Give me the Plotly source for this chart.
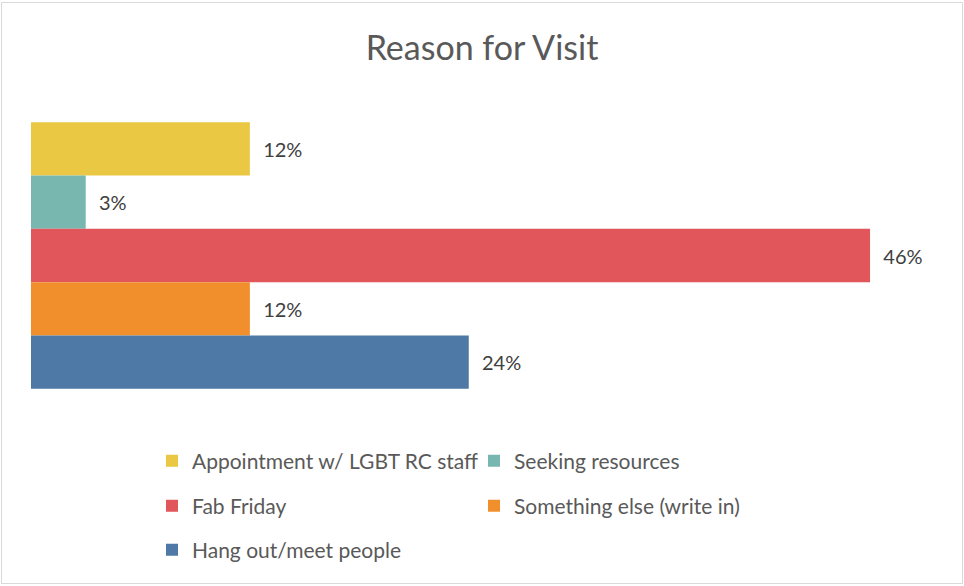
import plotly.graph_objects as go

categories = ["Reason"]
series_names = [
    "Appointment w/ LGBT RC staff",
    "Seeking resources",
    "Fab Friday",
    "Something else (write in)",
    "Hang out/meet people",
]
series_values = [12, 3, 46, 12, 24]
series_colors = ["#EBC844", "#78B7AF", "#E0565B", "#F28F2D", "#4E78A6"]
legend_ids = ["legend", "legend", "legend2", "legend2", "legend3"]

W, H = 964, 586
ML, MR, MT, MB = 31, 21, 109, 184
FONT = "Lato"

fig = go.Figure()
for name, val, col, lg in zip(series_names, series_values, series_colors, legend_ids):
    fig.add_trace(go.Bar(
        y=categories, x=[val], name=name, orientation="h",
        marker=dict(color=col, line=dict(width=0)),
        text=[f"{val}%"], textposition="outside",
        texttemplate="  %{text}",
        textfont=dict(family=FONT, size=20, color="#404040"),
        cliponaxis=False, legend=lg,
    ))

leg_common = dict(orientation="h", xanchor="left", yanchor="middle",
                  font=dict(family=FONT, size=21, color="#595959"),
                  entrywidth=277, entrywidthmode="pixels",
                  bgcolor="rgba(0,0,0,0)", itemclick=False)

def py(y):
    return (H - MB - y) / (H - MT - MB)

def px(x):
    return (x - ML) / (W - ML - MR)

fig.update_layout(
    width=W, height=H,
    margin=dict(l=ML, r=MR, t=MT, b=MB),
    paper_bgcolor="white", plot_bgcolor="white",
    barmode="group", bargap=0.09, bargroupgap=0,
    title=dict(text="Reason for Visit", x=0.5, xanchor="center",
               y=1 - 48 / H, yanchor="middle",
               font=dict(family=FONT, size=34, color="#595959")),
    xaxis=dict(range=[0, 50], visible=False, fixedrange=True),
    yaxis=dict(visible=False, autorange="reversed", fixedrange=True),
    showlegend=True,
    legend=dict(x=px(152), y=py(461), **leg_common),
    legend2=dict(x=px(152), y=py(506), **leg_common),
    legend3=dict(x=px(152), y=py(550), **leg_common),
)

fig.add_shape(type="rect", xref="paper", yref="paper",
              x0=px(1.5), x1=px(962.5), y0=py(583.5), y1=py(2.5),
              line=dict(color="#D9D9D9", width=1), fillcolor="rgba(0,0,0,0)",
              layer="below")

fig.write_html("out.html", config={"displayModeBar": False},
               post_script="document.body.style.margin='0';")
